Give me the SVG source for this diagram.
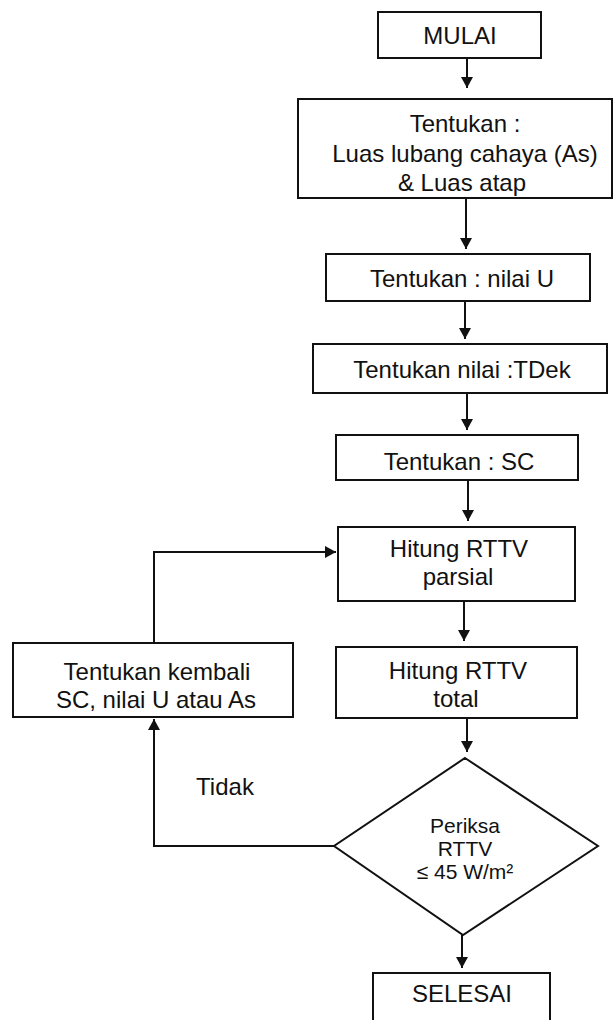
<svg xmlns="http://www.w3.org/2000/svg" width="616" height="1020" viewBox="0 0 616 1020">
<defs>
<style>
.box{fill:#fff;stroke:#111;stroke-width:2}
.t{font-family:"Liberation Sans",Arial,sans-serif;font-size:24px;fill:#111;text-anchor:middle}
.d{font-size:21px}
.c{fill:none;stroke:#111;stroke-width:2}
</style>
<marker id="ah" viewBox="0 0 11 12" refX="11" refY="6" markerWidth="11" markerHeight="12" markerUnits="userSpaceOnUse" orient="auto">
<path d="M0,0 L11,6 L0,12 z" fill="#111"/>
</marker>
</defs>
<rect width="616" height="1020" fill="#fff"/>
<g id="connectors">
<line class="c" x1="467" y1="58" x2="467" y2="88" marker-end="url(#ah)"/>
<line class="c" x1="466" y1="198" x2="466" y2="249" marker-end="url(#ah)"/>
<line class="c" x1="465" y1="301" x2="465" y2="339" marker-end="url(#ah)"/>
<line class="c" x1="467" y1="393" x2="467" y2="430" marker-end="url(#ah)"/>
<line class="c" x1="468" y1="480" x2="468" y2="521" marker-end="url(#ah)"/>
<line class="c" x1="464" y1="601" x2="464" y2="641" marker-end="url(#ah)"/>
<line class="c" x1="467" y1="718" x2="467" y2="752" marker-end="url(#ah)"/>
<line class="c" x1="462" y1="935" x2="462" y2="968" marker-end="url(#ah)"/>
<polyline class="c" points="334,846 154,846 154,719" marker-end="url(#ah)"/>
<polyline class="c" points="154,643 154,552 336,552" marker-end="url(#ah)"/>
</g>
<g id="n-mulai"><rect class="box" x="378" y="12" width="163" height="46"/><text class="t" x="460" y="44">MULAI</text></g>
<g id="n-luas"><rect class="box" x="298" y="99" width="314" height="99"/>
<text class="t" x="465" y="132">Tentukan :</text>
<text class="t" x="465" y="162">Luas lubang cahaya (As)</text>
<text class="t" x="462" y="191">&amp; Luas atap</text></g>
<g id="n-u"><rect class="box" x="326" y="254" width="264" height="47"/><text class="t" x="462" y="287">Tentukan : nilai U</text></g>
<g id="n-tdek"><rect class="box" x="313" y="344" width="294" height="49"/><text class="t" x="462" y="378">Tentukan nilai :TDek</text></g>
<g id="n-sc"><rect class="box" x="336" y="435" width="242" height="45"/><text class="t" x="459" y="470">Tentukan : SC</text></g>
<g id="n-parsial"><rect class="box" x="338" y="527" width="237" height="74"/>
<text class="t" x="459" y="557">Hitung RTTV</text>
<text class="t" x="458" y="585">parsial</text></g>
<g id="n-total"><rect class="box" x="336" y="647" width="241" height="71"/>
<text class="t" x="458" y="679">Hitung RTTV</text>
<text class="t" x="456" y="707">total</text></g>
<g id="n-kembali"><rect class="box" x="13" y="643" width="280" height="74"/>
<text class="t" x="157" y="680">Tentukan kembali</text>
<text class="t" x="156" y="708">SC, nilai U atau As</text></g>
<g id="n-periksa"><polygon class="box" points="465,758 598,846 463,935 334,846"/>
<text class="t d" x="465" y="833">Periksa</text>
<text class="t d" x="465" y="856">RTTV</text>
<text class="t d" x="465" y="879">≤ 45 W/m²</text></g>
<g id="n-selesai"><rect class="box" x="373" y="973" width="177" height="50"/><text class="t" x="462" y="1002">SELESAI</text></g>
<text class="t" x="225" y="795">Tidak</text>
</svg>
